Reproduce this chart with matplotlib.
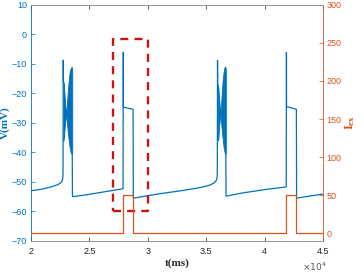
import matplotlib
matplotlib.use("Agg")
import matplotlib.pyplot as plt
from matplotlib.ticker import FuncFormatter, FixedLocator

plt.rcParams["mathtext.fontset"] = "custom"
plt.rcParams["mathtext.rm"] = "Liberation Serif"
plt.rcParams["mathtext.bf"] = "Liberation Serif:bold"
plt.rcParams["mathtext.it"] = "Liberation Serif:italic"

# ---------------- data ----------------
# membrane potential, continuous segments (t in ms, V in mV)
seg1_t = [20000, 21000, 21800, 22300, 22550, 22650, 22710, 22740, 22760, 22770]
seg1_v = [-53.0, -52.4, -51.6, -50.9, -50.3, -49.8, -49.0, -47.5, -8.7, -16.0]

seg2_t = [23530, 23550, 25000, 26500, 27880, 27900, 27910, 28740, 28760,
          29500, 31000, 33000, 34500, 35300, 35650, 35850, 35920, 35950, 35970, 35980]
seg2_v = [-40.0, -55.0, -54.2, -53.2, -52.3, -6.0, -24.7, -25.4, -55.5,
          -55.0, -54.0, -52.9, -51.9, -51.1, -50.4, -49.6, -48.8, -47.5, -8.7, -17.0]

seg3_t = [36680, 36700, 38000, 40000, 41850, 41870, 41880, 42720, 42740, 43500, 45000]
seg3_v = [-40.0, -54.8, -53.8, -52.6, -51.7, -6.0, -24.5, -25.4, -55.5, -55.0, -54.1]

# burst envelopes (dense oscillations)
b1_t = [22770, 22830, 22900, 22980, 23030, 23100, 23200, 23300, 23400, 23480, 23530]
b1_up = [-16, -18, -22, -26, -26.5, -22, -17, -13, -11.5, -11, -12]
b1_lo = [-36, -34, -31, -28, -27.5, -31, -35, -38, -40, -40.5, -40]

b2_t = [35980, 36040, 36110, 36190, 36230, 36300, 36400, 36500, 36580, 36640, 36680]
b2_up = [-17, -18, -22, -26, -26.8, -22, -16, -12.5, -11, -11, -12]
b2_lo = [-36, -35.5, -31, -28, -26.8, -31, -35, -38.5, -40, -40.5, -40]

# external current (step pulses)
iex_t = [20000, 27900, 27900, 28750, 28750, 41870, 41870, 42730, 42730, 45000]
iex_v = [0, 0, 50, 50, 0, 0, 50, 50, 0, 0]

# highlighted box
box_t = [27000, 30000]
box_v = [-60, -1.5]

xticks = [20000, 25000, 30000, 35000, 40000, 45000]
vticks = [10, 0, -10, -20, -30, -40, -50, -60, -70]
iticks = [0, 50, 100, 150, 200, 250, 300]

# ---------------- style ----------------
BLUE = "#0072BD"
ORANGE = "#D95319"
DARK = "#262626"
RED = "#C81414"

fig = plt.figure(figsize=(3.64, 2.74), dpi=100)
ax = fig.add_axes([31/364, 1-241/274, (323-31)/364, (241-4.7)/274])
ax2 = ax.twinx()

lw = 0.9
for tt, vv in ((seg1_t, seg1_v), (seg2_t, seg2_v), (seg3_t, seg3_v)):
    ax.plot(tt, vv, color=BLUE, lw=lw, solid_joinstyle="miter")
for tt, up, lo in ((b1_t, b1_up, b1_lo), (b2_t, b2_up, b2_lo)):
    ax.fill_between(tt, lo, up, color=BLUE, lw=0.6, edgecolor=BLUE)

# dashed box
bx = [box_t[0], box_t[1], box_t[1], box_t[0], box_t[0]]
by = [box_v[0], box_v[0], box_v[1], box_v[1], box_v[0]]
ax.plot(bx, by, color=RED, lw=1.7, linestyle=(0, (3.4, 2.6)), zorder=5)

ax2.plot(iex_t, iex_v, color=ORANGE, lw=lw)

ax.set_xlim(20000, 45000)
ax.set_ylim(-70, 10)
ax2.set_ylim(-10, 300)

ax.xaxis.set_major_locator(FixedLocator(xticks))
ax.xaxis.set_major_formatter(FuncFormatter(lambda x, p: f"{x/1e4:g}"))
ax.set_yticks(vticks)
ax2.set_yticks(iticks)

ax.tick_params(axis="x", direction="in", length=3, width=0.5, colors=DARK,
               labelsize=6.5, pad=4.5, top=True)
ax.tick_params(axis="y", direction="in", length=3, width=0.5, colors=BLUE,
               labelsize=6.5, pad=3)
ax2.tick_params(axis="y", direction="in", length=3, width=0.5, colors=ORANGE,
                labelsize=6.5, pad=2.5)
for lab in ax.get_xticklabels() + ax.get_yticklabels() + ax2.get_yticklabels():
    lab.set_fontfamily("Liberation Sans")

for a in (ax, ax2):
    for s in a.spines.values():
        s.set_linewidth(0.6)
    a.spines["top"].set_color("#999999")
    a.spines["bottom"].set_color("#999999")
    a.spines["left"].set_color(BLUE)
    a.spines["right"].set_color(ORANGE)
ax2.spines["left"].set_visible(False)
ax.spines["right"].set_visible(False)

ax.set_xlabel("t(ms)", family="Liberation Serif", weight="bold", size=8,
              color=DARK, labelpad=1.5)
ax.set_ylabel("V(mV)", family="Liberation Serif", weight="bold", size=8,
              color=BLUE, labelpad=1)
ax2.set_ylabel(r"$\mathbf{I_{ex}}$", size=9, color=ORANGE, labelpad=1,
               rotation=90)

fig.text(302/364, 1-267/274, r"$\times10^{4}$", size=6.5, color="#555555",
         ha="left", va="center", math_fontfamily="dejavusans")

fig.savefig("out.png", dpi=100)
